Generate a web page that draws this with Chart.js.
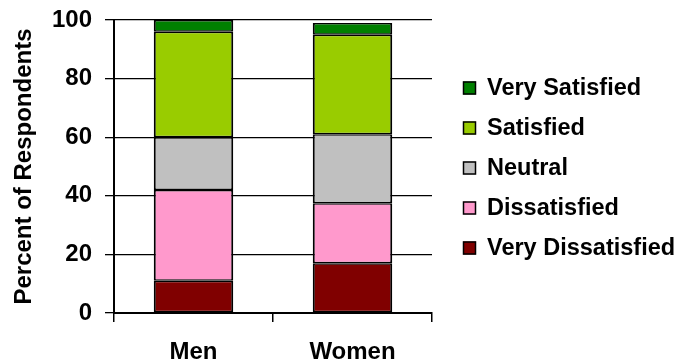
<!DOCTYPE html>
<html>
<head>
<meta charset="utf-8">
<script src="https://cdn.jsdelivr.net/npm/chart.js@4/dist/chart.umd.min.js"></script>
<style>
  html, body { margin: 0; padding: 0; background: #fff; }
  #wrap { width: 678px; height: 362px; position: relative; }
</style>
</head>
<body>
<div id="wrap"><canvas id="c" width="678" height="362"></canvas></div>
<script>
// Satisfaction survey, percent of respondents by gender
const categories = ['Men', 'Women'];
const veryDissatisfied = [11, 17];
const dissatisfied = [31, 20.5];
const neutral = [18, 23.5];
const satisfied = [36, 34];
const verySatisfied = [4, 4];
const yTicks = [0, 20, 40, 60, 80, 100];

const FONT = "'Liberation Sans', Arial, sans-serif";

const series = [
  { label: 'Very Dissatisfied', data: veryDissatisfied, color: '#800000' },
  { label: 'Dissatisfied', data: dissatisfied, color: '#FF99CC' },
  { label: 'Neutral', data: neutral, color: '#C0C0C0' },
  { label: 'Satisfied', data: satisfied, color: '#99CC00' },
  { label: 'Very Satisfied', data: verySatisfied, color: '#008000' }
];

// Legend drawn at the right, top entry = top of the stack
const sideLegend = {
  id: 'sideLegend',
  afterDraw(chart, args, opts) {
    const ctx = chart.ctx;
    const items = chart.data.datasets.slice().reverse();
    ctx.save();
    ctx.font = 'bold 23.5px ' + FONT;
    ctx.textBaseline = 'middle';
    ctx.textAlign = 'left';
    items.forEach((ds, i) => {
      const cy = opts.top + i * opts.step;
      ctx.fillStyle = ds.backgroundColor;
      ctx.fillRect(opts.x, cy - 6.5, 13, 13);
      ctx.strokeStyle = '#000';
      ctx.lineWidth = 1.5;
      ctx.strokeRect(opts.x + 0.5, cy - 6, 12, 12);
      ctx.fillStyle = '#000';
      ctx.fillText(ds.label, opts.x + 24, cy + 1);
    });
    ctx.restore();
  }
};

new Chart(document.getElementById('c'), {
  type: 'bar',
  data: {
    labels: categories,
    datasets: series.map(s => ({
      label: s.label,
      data: s.data,
      backgroundColor: s.color,
      borderColor: '#000',
      borderWidth: { left: 2, right: 2, top: 1.5, bottom: 1.5 },
      borderSkipped: false,
      categoryPercentage: 1,
      barPercentage: 0.5
    }))
  },
  options: {
    responsive: false,
    animation: false,
    layout: { padding: { top: 20, right: 246, left: 0, bottom: 0 } },
    plugins: {
      legend: { display: false },
      tooltip: { enabled: false },
      sideLegend: { x: 463, top: 88, step: 40 }
    },
    scales: {
      x: {
        stacked: true,
        grid: { offset: true, drawOnChartArea: false, drawTicks: true, tickLength: 9, color: '#000', lineWidth: 1.5 },
        border: { color: '#000', width: 2 },
        ticks: { color: '#000', font: { family: FONT, size: 24, weight: 'bold' }, padding: 16 },
        afterFit(scale) { scale.height = 49; scale.paddingLeft = 0; scale.paddingRight = 0; }
      },
      y: {
        stacked: true,
        min: 0,
        max: 100,
        afterBuildTicks(scale) { scale.ticks = yTicks.map(v => ({ value: v })); },
        grid: { color: '#000', lineWidth: 1.3, tickLength: 9, drawTicks: true },
        border: { color: '#000', width: 2 },
        ticks: { color: '#000', font: { family: FONT, size: 24, weight: 'bold' }, padding: 13 },
        title: {
          display: true,
          text: 'Percent of Respondents',
          color: '#000',
          font: { family: FONT, size: 24, weight: 'bold' },
          padding: { top: 10, bottom: 0 }
        },
        afterFit(scale) { scale.width = 114; scale.paddingTop = 0; scale.paddingBottom = 0; }
      }
    }
  },
  plugins: [sideLegend]
});
</script>
</body>
</html>
